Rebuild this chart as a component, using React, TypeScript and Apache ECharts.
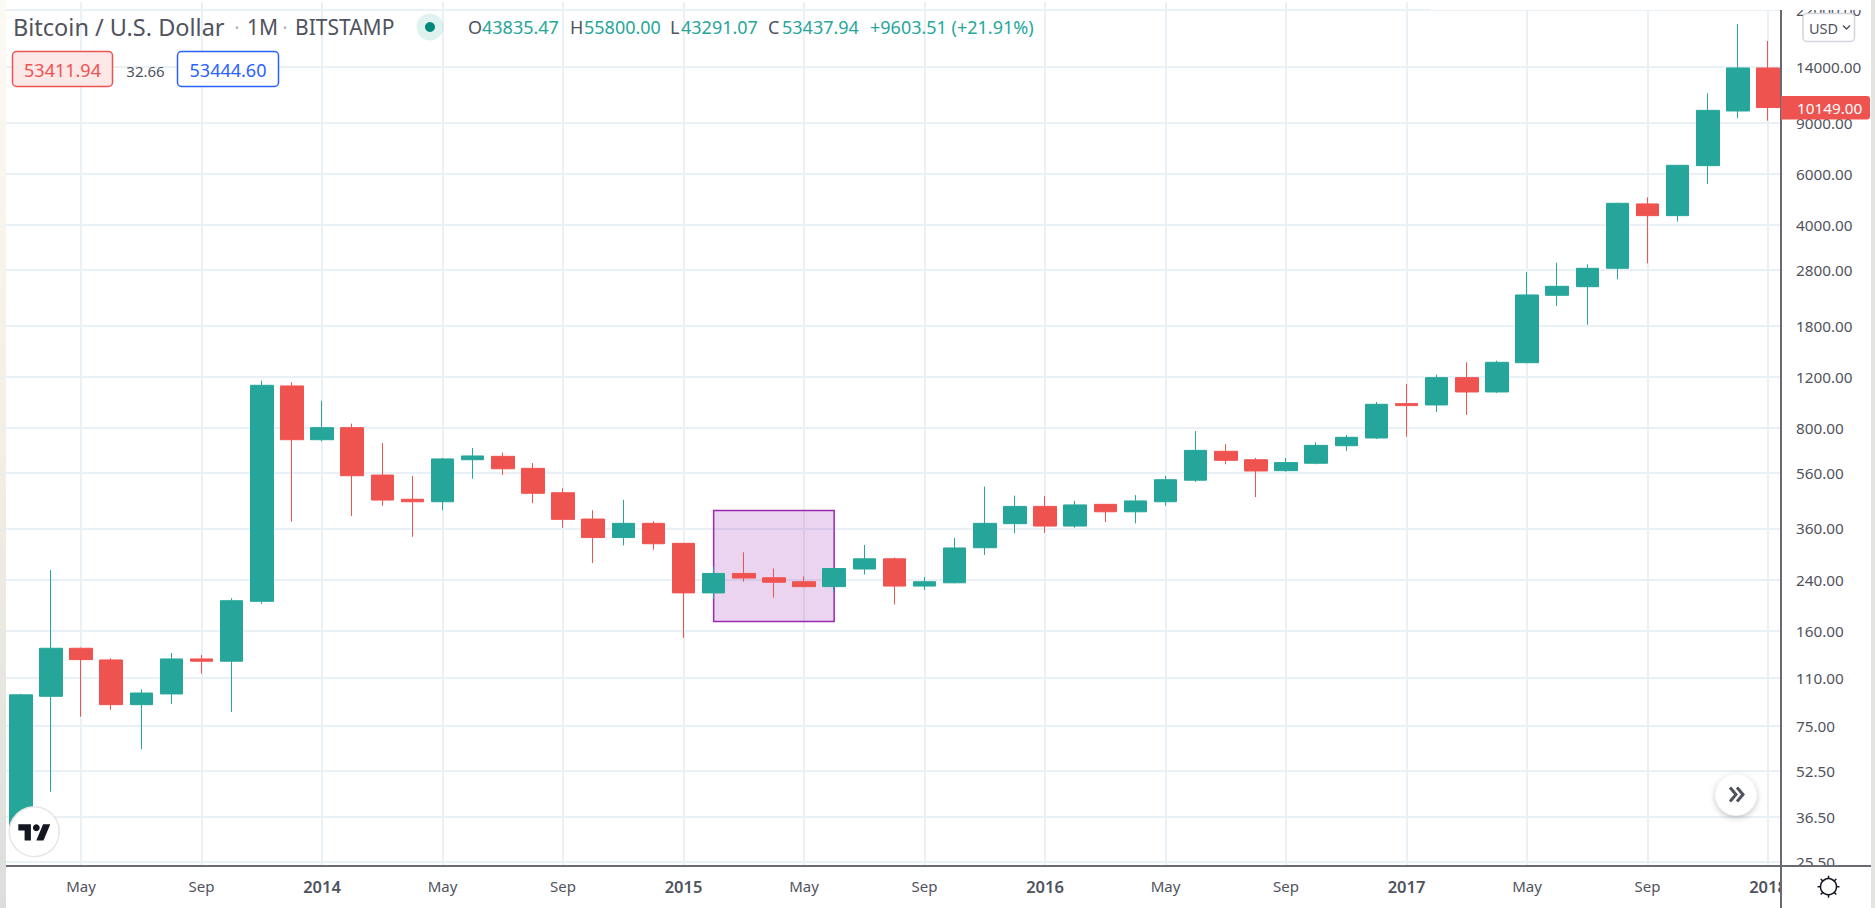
import React, { useEffect, useRef } from "react";
import * as echarts from "echarts";

const months = [
  "2013-03","2013-04","2013-05","2013-06","2013-07","2013-08","2013-09","2013-10","2013-11","2013-12",
  "2014-01","2014-02","2014-03","2014-04","2014-05","2014-06","2014-07","2014-08","2014-09","2014-10","2014-11","2014-12",
  "2015-01","2015-02","2015-03","2015-04","2015-05","2015-06","2015-07","2015-08","2015-09","2015-10","2015-11","2015-12",
  "2016-01","2016-02","2016-03","2016-04","2016-05","2016-06","2016-07","2016-08","2016-09","2016-10","2016-11","2016-12",
  "2017-01","2017-02","2017-03","2017-04","2017-05","2017-06","2017-07","2017-08","2017-09","2017-10","2017-11","2017-12",
  "2018-01",
];
const opens = [33.5,95.1,139.2,126.9,89,96.9,127.9,125.6,202,1115,728,801,550,454,445,621,638,580,478,388,335,375,320,216,252,243.5,236,227,261,283,228,234,309,374,429,367,436,411,445,528,664,621,569.5,604,694,738,969,959,1191,1063,1341,2289,2450,2835,4725,4305,6400,9875,13888];
const closes = [96.2,139.2,127.2,89,97.6,127.9,125.6,203,1121,728,801,547,451,445,625,640,578,476,387,335,375,319,216,252,243,235,227,262,283,228,236,308.5,375,429,367,434,411,448,530,669,618,568,607,696,742,964,954,1191,1063,1345,2295,2458,2835,4748,4305,6418,9926,13888,10149];
const lows = [32,44.6,80.9,85.5,62.5,89.5,113.8,84,198,380,719,397,431,337,416,534,550,440,362,274,315,304,151,206,236,208,226,218,250,197,221,233,292,347,348,362,379,375,431,521,599,462,565,599,666,732,746,907,886,1055,1335,2103,1813,2598,2950,4103,5534,9320,9145];
const highs = [97,259,140,128.6,100.5,134.1,132,207,1163,1148,992,827,709,546,630,682,657,605,495,416,452,381,320,266,298,262,246,263,316,286,245,334,502,467,465,448,437,469,546,780,702,630,630,713,756,982,1133,1220,1345,1362,2754,2964,2926,4770,4980,6430,11365,19690,17203];

const priceTicks = [25.5,36.5,52.5,75,110,160,240,360,560,800,1200,1800,2800,4000,6000,9000,14000,22000];
const tickMonths = ["2013-05","2013-09","2014-01","2014-05","2014-09","2015-01","2015-05","2015-09","2016-01","2016-05","2016-09","2017-01","2017-05","2017-09","2018-01"];
const tickLabels = ["May","Sep","2014","May","Sep","2015","May","Sep","2016","May","Sep","2017","May","Sep","2018"];

const highlightFrom = "2015-02";
const highlightTo = "2015-06";
const highlightLow = 172;
const highlightHigh = 415;

const lastPriceLabel = "10149.00";

const FONT = '"Noto Sans", sans-serif';
const TEXT = "#50535E";
const GREEN = "#26A69A";
const RED = "#EF5350";
const GRID = "#E9F0F6";
const AXIS = "#686B76";

echarts.graphic.registerShape(
  "tvlogo",
  echarts.graphic.extendPath("M14 22H7V11H0V4h14v18zM28 22h-8l7.5-18h8L28 22z", {})
);

export default function App() {
  const ref = useRef<HTMLDivElement>(null);
  useEffect(() => {
    document.body.style.margin = "0";
    const chart = echarts.init(ref.current!, undefined, { renderer: "svg" });
    const candles = months.map((_, i) => [i, opens[i], closes[i], lows[i], highs[i]]);
    const xTicks = tickMonths.map((m) => months.indexOf(m));
    const t = (x: number, y: number, text: string, fill: string, size: number, align = "left", extra: any = {}) => ({
      type: "text", x, y, z: 120,
      style: { text, fill, font: `${size}px ${FONT}`, align, verticalAlign: "middle", ...extra },
    });
    chart.setOption({
      animation: false,
      backgroundColor: "#FFFFFF",
      textStyle: { fontFamily: FONT },
      grid: { left: 5.7, top: 2, width: 1775.3, height: 864, containLabel: false },
      xAxis: {
        type: "value",
        min: -0.5,
        max: 58.43,
        axisLine: { show: false },
        axisTick: { show: false, customValues: xTicks },
        splitLine: { show: true, lineStyle: { color: GRID, width: 2 } },
        axisLabel: {
          show: true,
          customValues: xTicks,
          margin: 12,
          color: TEXT,
          fontSize: 15,
          fontFamily: FONT,
          formatter: (v: number) => {
            const s = tickLabels[xTicks.indexOf(Math.round(v))];
            return /^\d/.test(s) ? `{y|${s}}` : s;
          },
          rich: { y: { fontWeight: 600, fontSize: 16.5, color: TEXT, fontFamily: FONT } },
        },
      },
      yAxis: {
        type: "log",
        logBase: 10,
        position: "right",
        min: 24.75,
        max: 23442,
        axisLine: { show: false },
        axisTick: { show: false, customValues: priceTicks },
        splitLine: { show: true, lineStyle: { color: GRID, width: 2 } },
        axisLabel: {
          show: true,
          customValues: priceTicks,
          margin: 15,
          align: "left",
          color: TEXT,
          fontSize: 15.3,
          fontFamily: FONT,
          formatter: (v: number) => Number(v).toFixed(2),
        },
      },
      series: [
        {
          type: "candlestick",
          data: candles,
          encode: { x: 0, y: [1, 2, 3, 4] },
          barWidth: 23,
          clip: true,
          z: 5,
          itemStyle: { color: GREEN, color0: RED, borderColor: GREEN, borderColor0: RED, borderWidth: 1 },
          markArea: {
            silent: true,
            z: 1,
            itemStyle: { color: "rgba(156,39,176,0.2)", borderColor: "#9C27B0", borderWidth: 1.5 },
            data: [[
              { xAxis: months.indexOf(highlightFrom), yAxis: highlightLow },
              { xAxis: months.indexOf(highlightTo), yAxis: highlightHigh },
            ]],
          },
        },
      ],
      graphic: [
        { type: "rect", z: 100, shape: { x: 1430, y: 0, width: 445, height: 10 }, style: { fill: "#FFFFFF" } },
        { type: "rect", z: 100, shape: { x: 1782, y: 867, width: 93, height: 41 }, style: { fill: "#FFFFFF" } },
        {
          type: "rect", z: 130, shape: { x: 0, y: 0, width: 6, height: 908 },
          style: { fill: new echarts.graphic.LinearGradient(0, 0, 0, 1, [
            { offset: 0, color: "#FCFAF4" }, { offset: 0.5, color: "#F2EEE5" }, { offset: 1, color: "#DCDEDC" },
          ]) },
        },
        { type: "rect", z: 130, shape: { x: 1871, y: 0, width: 4, height: 908 }, style: { fill: "#E4E4E0" } },
        { type: "line", z: 101, shape: { x1: 6, y1: 866, x2: 1871, y2: 866 }, style: { stroke: AXIS, lineWidth: 2 } },
        { type: "line", z: 101, shape: { x1: 1781, y1: 10, x2: 1781, y2: 908 }, style: { stroke: AXIS, lineWidth: 2 } },
        t(13, 27, "Bitcoin / U.S. Dollar", TEXT, 23.5),
        t(237, 27, "·", "#B2B5BE", 20, "center"),
        t(247, 27, "1M", TEXT, 21),
        t(285, 27, "·", "#B2B5BE", 20, "center"),
        t(295, 27, "BITSTAMP", TEXT, 21),
        { type: "circle", z: 110, shape: { cx: 430, cy: 27, r: 13.5 }, style: { fill: "rgba(38,166,154,0.15)" } },
        { type: "circle", z: 111, shape: { cx: 430, cy: 27, r: 5 }, style: { fill: "#00897B" } },
        t(468, 27, "O", TEXT, 18),
        t(482, 27, "43835.47", GREEN, 18),
        t(570, 27, "H", TEXT, 18),
        t(584, 27, "55800.00", GREEN, 18),
        t(670, 27, "L", TEXT, 18),
        t(681, 27, "43291.07", GREEN, 18),
        t(768, 27, "C", TEXT, 18),
        t(782, 27, "53437.94", GREEN, 18),
        t(870, 27, "+9603.51 (+21.91%)", GREEN, 18),
        { type: "rect", z: 110, shape: { x: 12.5, y: 51.5, width: 100, height: 35, r: 4 }, style: { fill: "#FDE8E8", stroke: RED, lineWidth: 1.5 } },
        t(62.5, 69.5, "53411.94", RED, 18, "center"),
        t(145.5, 70.5, "32.66", TEXT, 15, "center"),
        { type: "rect", z: 110, shape: { x: 177.5, y: 51.5, width: 101, height: 35, r: 4 }, style: { fill: "#FFFFFF", stroke: "#2962FF", lineWidth: 1.5 } },
        t(228, 69.5, "53444.60", "#2962FF", 18, "center"),
        { type: "rect", z: 110, shape: { x: 1803, y: 13.5, width: 51.5, height: 28, r: 4 }, style: { fill: "#FFFFFF", stroke: "#D1D4DC", lineWidth: 1.5 } },
        t(1809, 27.5, "USD", TEXT, 14.5),
        { type: "polyline", z: 120, shape: { points: [[1843, 25.5], [1846.5, 29], [1850, 25.5]] }, style: { stroke: TEXT, lineWidth: 1.5, fill: "none" } },
        { type: "rect", z: 110, shape: { x: 1781, y: 96, width: 89, height: 23.5, r: [0, 3, 3, 0] }, style: { fill: RED } },
        t(1797, 108, lastPriceLabel, "#FFFFFF", 15.3),
        { type: "circle", z: 110, shape: { cx: 34.3, cy: 831.7, r: 25 }, style: { fill: "#FFFFFF", stroke: "#E6E6E6", lineWidth: 1.5 } },
        { type: "tvlogo", z: 111, x: 18.3, y: 820.6, scaleX: 0.9, scaleY: 0.9, style: { fill: "#131722" } },
        { type: "circle", z: 111, shape: { cx: 36.3, cy: 827.8, r: 3.4 }, style: { fill: "#131722" } },
        { type: "circle", z: 110, shape: { cx: 1736, cy: 795, r: 20.5 }, style: { fill: "#FFFFFF", shadowBlur: 6, shadowColor: "rgba(0,0,0,0.25)", shadowOffsetY: 2 } },
        { type: "polyline", z: 111, shape: { points: [[1730, 787.5], [1736, 794.5], [1730, 801.5]] }, style: { stroke: TEXT, lineWidth: 3, fill: "none" } },
        { type: "polyline", z: 111, shape: { points: [[1737, 787.5], [1743, 794.5], [1737, 801.5]] }, style: { stroke: TEXT, lineWidth: 3, fill: "none" } },
        { type: "circle", z: 111, shape: { cx: 1828.5, cy: 886.7, r: 8 }, style: { fill: "#FFFFFF", stroke: "#131722", lineWidth: 1.5 } },
        ...[0, 45, 90, 135, 180, 225, 270, 315].map((a) => {
          const r = (a * Math.PI) / 180;
          return {
            type: "line", z: 111,
            shape: { x1: 1828.5 + Math.cos(r) * 8, y1: 886.7 + Math.sin(r) * 8, x2: 1828.5 + Math.cos(r) * 11, y2: 886.7 + Math.sin(r) * 11 },
            style: { stroke: "#131722", lineWidth: 1.5 },
          };
        }),
      ],
    });
    return () => chart.dispose();
  }, []);
  return <div ref={ref} style={{ width: 1875, height: 908 }} />;
}
